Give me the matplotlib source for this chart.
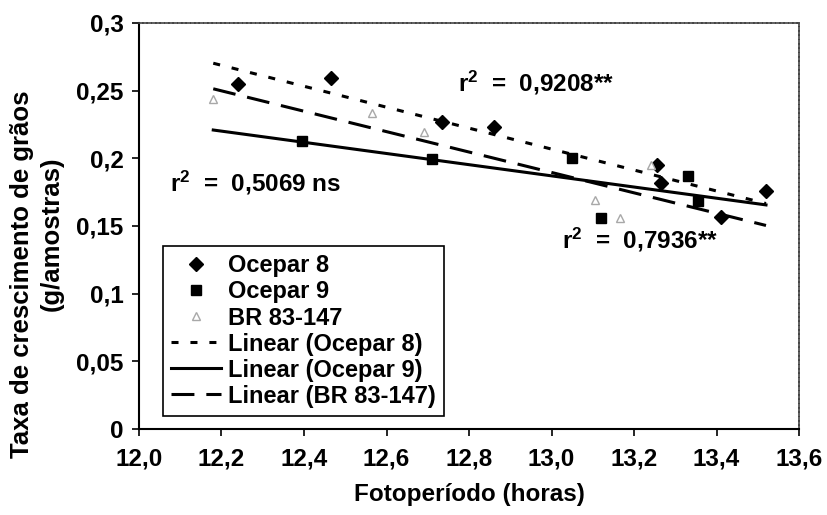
import numpy as np
import matplotlib
matplotlib.use('Agg')
import matplotlib.pyplot as plt

# Dados: fotoperíodo (horas) x taxa de crescimento de grãos (g/amostras)
foto_oc8 = [12.24, 12.465, 12.735, 12.86, 13.255, 13.265, 13.41, 13.52]
taxa_oc8 = [0.255, 0.259, 0.227, 0.223, 0.195, 0.182, 0.157, 0.176]

foto_oc9 = [12.395, 12.71, 13.05, 13.12, 13.33, 13.355]
taxa_oc9 = [0.213, 0.1995, 0.200, 0.156, 0.187, 0.1685]

foto_br = [12.18, 12.565, 12.69, 13.105, 13.165, 13.24]
taxa_br = [0.244, 0.2335, 0.2195, 0.169, 0.156, 0.195]

r2_textos = [r'$\mathrm{r}^{2}$  =  0,9208**',
             r'$\mathrm{r}^{2}$  =  0,5069 ns',
             r'$\mathrm{r}^{2}$  =  0,7936**']
xticks = [12.0, 12.2, 12.4, 12.6, 12.8, 13.0, 13.2, 13.4, 13.6]
yticks = [0, 0.05, 0.1, 0.15, 0.2, 0.25, 0.3]

plt.rcParams['font.family'] = ['Liberation Sans', 'DejaVu Sans']
plt.rcParams['font.weight'] = 'bold'
plt.rcParams['mathtext.fontset'] = 'custom'
plt.rcParams['mathtext.rm'] = 'Liberation Sans:bold'
plt.rcParams['mathtext.it'] = 'Liberation Sans:bold'
plt.rcParams['mathtext.bf'] = 'Liberation Sans:bold'
fs = 17.5

fig = plt.figure(figsize=(8.27, 5.15), dpi=100)
ax = fig.add_axes([139/827, 1 - 429/515, (799 - 139)/827, (429 - 23)/515])

# pontos
ax.plot(foto_oc8, taxa_oc8, linestyle='none', marker='D', markersize=7.5,
        color='black', label='Ocepar 8')
ax.plot(foto_oc9, taxa_oc9, linestyle='none', marker='s', markersize=7,
        color='black', label='Ocepar 9')
ax.plot(foto_br, taxa_br, linestyle='none', marker='^', markersize=6,
        markerfacecolor='white', markeredgecolor='#a8a8a8', markeredgewidth=1,
        label='BR 83-147')

# linhas de tendência (regressão linear)
todos_x = foto_oc8 + foto_oc9 + foto_br
xx = np.array([min(todos_x), max(todos_x)])
a8, b8 = np.polyfit(foto_oc8, taxa_oc8, 1)
a9, b9 = np.polyfit(foto_oc9, taxa_oc9, 1)
ab, bb = np.polyfit(foto_br, taxa_br, 1)
ax.plot(xx, a8 * xx + b8, color='black', lw=2.2, dashes=(2.3, 3.9),
        label='Linear (Ocepar 8)')
ax.plot(xx, a9 * xx + b9, color='black', lw=2.2, label='Linear (Ocepar 9)')
ax.plot(xx, ab * xx + bb, color='black', lw=2.2, dashes=(7.5, 3.9),
        label='Linear (BR 83-147)')

# valores de r²
ax.text(12.773, 0.2557, r2_textos[0], fontsize=fs, fontweight='bold', va='center')
ax.text(12.075, 0.1818, r2_textos[1], fontsize=fs, fontweight='bold', va='center')
ax.text(13.025, 0.1397, r2_textos[2], fontsize=fs, fontweight='bold', va='center')

ax.set_xlim(12.0, 13.6)
ax.set_ylim(0, 0.3)
ax.set_xticks(xticks)
ax.set_yticks(yticks)
ax.set_xticklabels([f'{v:.1f}'.replace('.', ',') for v in xticks], fontsize=fs, fontweight='bold')
ax.set_yticklabels(['0', '0,05', '0,1', '0,15', '0,2', '0,25', '0,3'], fontsize=fs, fontweight='bold')
ax.tick_params(axis='both', direction='out', length=5, width=1.2, color='black')
ax.tick_params(axis='x', pad=8)
ax.tick_params(axis='y', pad=6)

for s in ['left', 'bottom']:
    ax.spines[s].set_linewidth(1.5)
    ax.spines[s].set_color('black')
for s in ['top', 'right']:
    ax.spines[s].set_linewidth(1.2)
    ax.spines[s].set_color('#444444')
    ax.spines[s].set_linestyle((0, (2, 0.6)))

leg = ax.legend(loc='lower left', bbox_to_anchor=(163/827, 1 - 416/515),
                bbox_transform=fig.transFigure, fontsize=17, frameon=True,
                fancybox=False, edgecolor='black', framealpha=1,
                handlelength=2.1, handletextpad=0.3, labelspacing=0.13,
                borderpad=0.35, borderaxespad=0)
leg.get_frame().set_linewidth(1.2)
for t in leg.get_texts():
    t.set_fontweight('bold')

# rótulos dos eixos
fig.text(469/827, 1 - 495/515, 'Fotoperíodo (horas)', ha='center', va='center',
         fontsize=fs, fontweight='bold')
fig.text(22/827, 1 - 274/515, 'Taxa de crescimento de grãos', rotation=90,
         ha='center', va='center', fontsize=18.5, fontweight='bold')
fig.text(52/827, 1 - 234/515, '(g/amostras)', rotation=90,
         ha='center', va='center', fontsize=18.5, fontweight='bold')

fig.savefig('out.png', dpi=100)
